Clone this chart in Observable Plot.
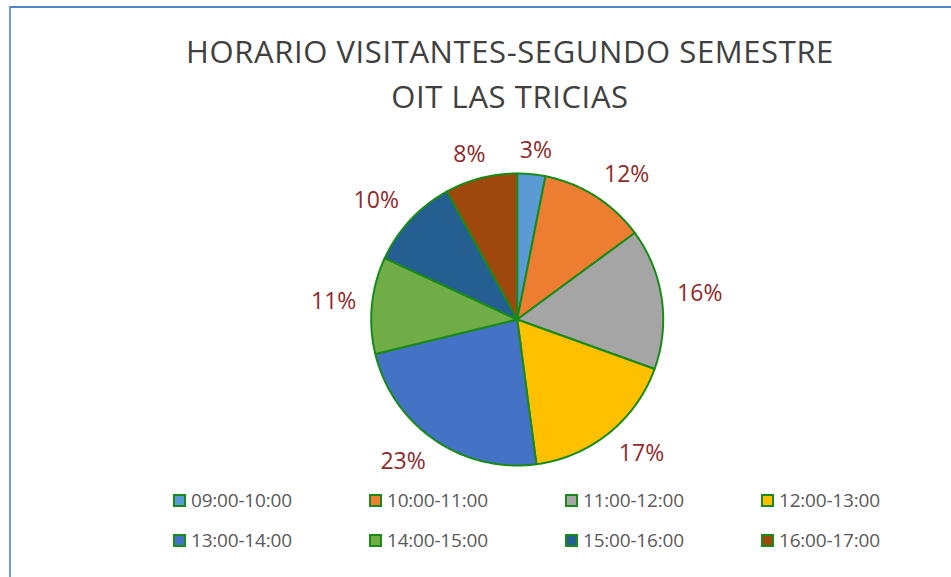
<!DOCTYPE html>
<html><head><meta charset="utf-8">
<script src="https://cdn.jsdelivr.net/npm/d3@7"></script>
<script src="https://cdn.jsdelivr.net/npm/@observablehq/plot@0.6"></script>
<style>
body{margin:0;background:#fff;}
#wrap{position:relative;width:951px;height:577px;overflow:hidden;background:#fff;font-family:"Open Sans",sans-serif;}
#frame{position:absolute;left:9px;top:6px;width:1000px;height:700px;border-left:2px solid #6a9fd8;border-top:2px solid #4f86c6;}
#title{position:absolute;left:0;width:1020px;top:29px;text-align:center;font-size:31px;line-height:45px;letter-spacing:0.6px;color:#404040;white-space:nowrap;}
#chart{position:absolute;left:0;top:125px;}
.item{position:absolute;display:flex;align-items:center;font-size:19px;color:#595959;white-space:nowrap;letter-spacing:-0.2px;}
.sw{width:9px;height:9px;border:2px solid #1a8a1a;margin-right:5px;}
</style></head>
<body><div id="wrap"><div id="frame"></div><div id="title"></div><div id="chart"></div><div id="legend"></div></div>
<script>
const categories = ["09:00-10:00","10:00-11:00","11:00-12:00","12:00-13:00","13:00-14:00","14:00-15:00","15:00-16:00","16:00-17:00"];
const shares = [3.1, 11.8, 15.6, 17.4, 23.3, 10.7, 10.1, 8.0];
const colors = ["#5B9BD5","#ED7D31","#A5A5A5","#FFC000","#4472C4","#70AD47","#255E91","#9E480E"];
const titleLines = ["HORARIO VISITANTES-SEGUNDO SEMESTRE","OIT LAS TRICIAS"];

document.getElementById("title").innerHTML = titleLines.join("<br>");

const W = 951, H = 355, cx = 516.7, cy = 194, R = 146;
const total = d3.sum(shares);
let cum = 0;
const slices = shares.map((v, i) => {
  const a0 = cum / total * 2 * Math.PI; cum += v;
  const a1 = cum / total * 2 * Math.PI;
  return {cat: categories[i], v, a0, a1};
});
const poly = [];
slices.forEach(s => {
  poly.push({cat: s.cat, x: 0, y: 0});
  const n = Math.max(2, Math.ceil((s.a1 - s.a0) / (Math.PI / 360)));
  for (let k = 0; k <= n; k++) {
    const a = s.a0 + (s.a1 - s.a0) * k / n;
    poly.push({cat: s.cat, x: Math.sin(a), y: Math.cos(a)});
  }
  poly.push({cat: s.cat, x: 0, y: 0});
});
// outside-end labels: box corner sits just beyond the rim
const labels = slices.map(s => {
  const m = (s.a0 + s.a1) / 2;
  const text = Math.round(s.v / total * 100) + "%";
  const w = text.length * 15.5, h = 18;
  const sx = Math.sin(m), cy_ = Math.cos(m);
  const px = (R + 15) * sx + Math.sign(sx) * Math.min(1, Math.abs(sx) * 2) * w / 2;
  const py = (R + 15) * cy_ + Math.sign(cy_) * Math.min(1, Math.abs(cy_) * 2) * h / 2;
  return {text, x: px / R, y: py / R};
});

const chart = Plot.plot({
  width: W, height: H, margin: 0,
  x: {domain: [-cx / R, (W - cx) / R], axis: null},
  y: {domain: [-(H - cy) / R, cy / R], axis: null},
  color: {domain: categories, range: colors},
  style: {background: "transparent", overflow: "visible"},
  marks: [
    Plot.line(poly, {x: "x", y: "y", z: "cat", fill: "cat", stroke: "#188a18", strokeWidth: 2, strokeLinejoin: "round"}),
    Plot.text(labels, {x: "x", y: "y", text: "text", fill: "#8e2a2a", fontSize: 23, fontFamily: "Open Sans"})
  ]
});
document.getElementById("chart").appendChild(chart);

const legend = document.getElementById("legend");
categories.forEach((c, i) => {
  const col = i % 4, row = Math.floor(i / 4);
  const d = document.createElement("div");
  d.className = "item";
  d.style.left = (173 + col * 196) + "px";
  d.style.top = (487 + row * 40) + "px";
  d.innerHTML = `<div class="sw" style="background:${colors[i]}"></div><span>${c}</span>`;
  legend.appendChild(d);
});
</script></body></html>
